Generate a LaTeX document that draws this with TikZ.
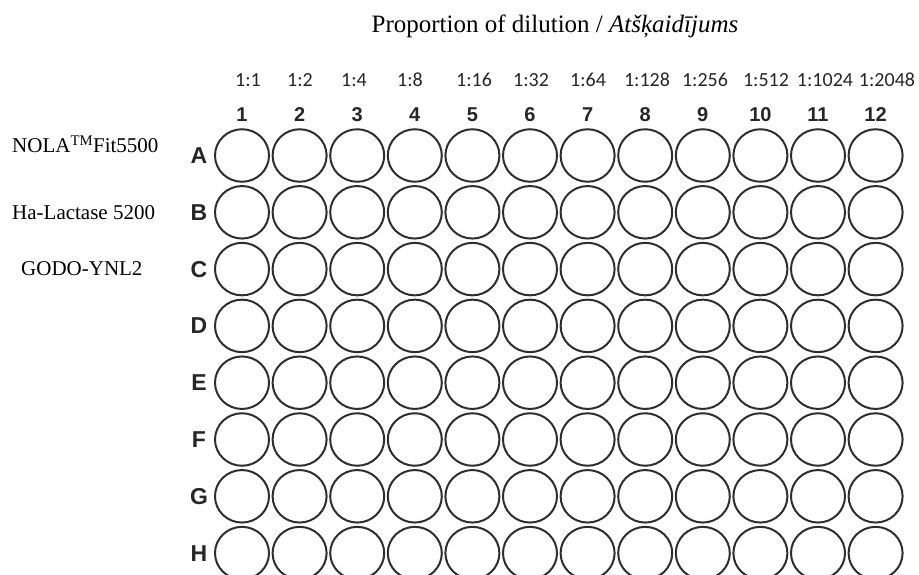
\documentclass[tikz,border=0pt]{standalone}
\usepackage{fontspec}
\setmainfont{Liberation Serif}
\newfontfamily\platefont{Liberation Sans}
\newfontfamily\ratiofont{Carlito}
\usetikzlibrary{shapes.geometric,positioning}

\begin{document}
\begin{tikzpicture}[x=1pt, y=-1pt,
        well/.style={ellipse, draw=black!82, line width=2pt, minimum width=54pt, minimum height=52.5pt, inner sep=0pt},
        rowlabel/.style={font=\platefont\bfseries\fontsize{23}{23}\selectfont, text=black!85},
        colnum/.style={font=\platefont\bfseries\fontsize{20}{20}\selectfont, anchor=base, text=black!85},
        ratio/.style={font=\ratiofont\fontsize{20}{20}\selectfont, anchor=base, text=black!85},
        sample/.style={font=\fontsize{21}{21}\selectfont, anchor=base west, inner sep=0pt}]
        \clip (0,0) rectangle (919,575);

        % Title
        \node[font=\fontsize{25}{25}\selectfont, anchor=base] (title) at (555,33) {Proportion of dilution / \textit{Atšķaidījums}};

        % Dilution ratios and column numbers
        \foreach \x/\ratio [count=\c] in {248/1:1, 300/1:2, 354/1:4, 410/1:8, 474/1:16, 531/1:32, 588/1:64, 647/1:128, 705/1:256, 766/1:512, 825/1:1024, 887/1:2048} {
            \node[ratio] (dil\c) at (\x,87) {\ratio};
            \node[colnum] (col\c) at ({242+57.6*(\c-1)},122) {\c};
        }

        % Wells and row letters
        \foreach \r [count=\i] in {A,B,C,D,E,F,G,H} {
            \node[rowlabel] (row\r) at (199,{155.5+56.8*(\i-1)}) {\r};
            \foreach \c in {1,...,12}
                \node[well] (\r\c) at ({242+57.6*(\c-1)},{155.5+56.8*(\i-1)}) {};
        }

        % Samples
        \node[sample] (nola) at (12,153) {NOLA\textsuperscript{TM}Fit5500};
        \node[sample] (lactase) at (12,219) {Ha-Lactase 5200};
        \node[sample] (godo) at (21,275) {GODO-YNL2};
    \end{tikzpicture}
\end{document}
